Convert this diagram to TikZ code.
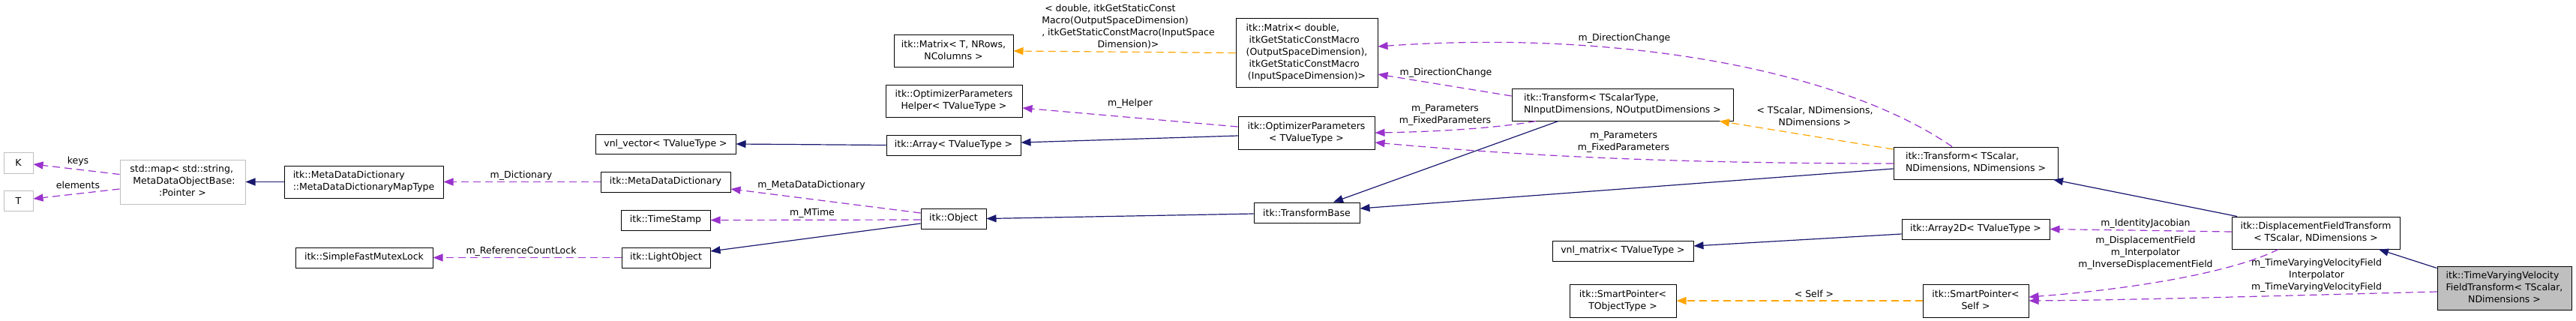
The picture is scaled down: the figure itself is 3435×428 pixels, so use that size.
\documentclass[tikz,border=0pt]{standalone}
\usepackage{fontspec}
\setmainfont{DejaVu Sans}
\usetikzlibrary{arrows.meta}
\definecolor{navy}{HTML}{191970}
\definecolor{orch}{HTML}{9A32CD}
\definecolor{orng}{HTML}{FFA500}
\definecolor{gry}{HTML}{BFBFBF}
\newcommand{\mlab}[2]{\begin{tabular}{@{}l@{}}#1\\\multicolumn{1}{@{}c@{}}{#2}\end{tabular}}
\begin{document}
\begin{tikzpicture}[x=1pt,y=-1pt,
  every node/.style={font=\fontsize{12.5}{16}\selectfont, inner sep=0pt},
  box/.style={draw=black, line width=1pt, fill=white},
  gbox/.style={draw=gry, line width=1pt, fill=white},
  tgt/.style={draw=black, line width=1pt, fill=gry},
  tip/.style={-{Triangle[length=13pt,width=10pt]}},
  inh/.style={draw=navy, line width=1.2pt, tip},
  dep/.style={draw=orch, line width=1.2pt, dash pattern=on 10pt off 6pt, tip},
  tmpl/.style={draw=orng, line width=1.2pt, dash pattern=on 10pt off 6pt, tip},
  lbl/.style={align=center}]
\fill[white] (0,0) rectangle (3435,428);
\useasboundingbox (0,0) rectangle (3435,428);

% nodes
\node[gbox, minimum width=39pt, minimum height=28pt] (K) at (24.5,217) {K};
\node[gbox, minimum width=39pt, minimum height=27pt] (T) at (24.5,267.5) {T};
\node[gbox, minimum width=167pt, minimum height=59pt] (map) at (243.5,242.5) {\mlab{std::map< std::string,\\\ MetaDataObjectBase:}{:Pointer >}};
\node[box, minimum width=212pt, minimum height=43pt] (mapType) at (485,242.5) {\mlab{itk::MetaDataDictionary}{::MetaDataDictionaryMapType}};
\node[box, minimum width=183pt, minimum height=27pt] (mutex) at (485.5,343.5) {itk::SimpleFastMutexLock};
\node[box, minimum width=187pt, minimum height=26pt] (vnlvec) at (887.5,192) {vnl\_vector< TValueType >};
\node[box, minimum width=173pt, minimum height=27pt] (mdd) at (887.5,242.5) {itk::MetaDataDictionary};
\node[box, minimum width=119pt, minimum height=27pt] (tstamp) at (887.5,293.5) {itk::TimeStamp};
\node[box, minimum width=118pt, minimum height=27pt] (lobj) at (888,343.5) {itk::LightObject};
\node[box, minimum width=159pt, minimum height=42pt] (matT) at (1271.5,68) {\mlab{itk::Matrix< T, NRows,}{NColumns >}};
\node[box, minimum width=182pt, minimum height=43pt] (helper) at (1272,134.5) {\mlab{itk::OptimizerParameters}{Helper< TValueType >}};
\node[box, minimum width=179pt, minimum height=27pt] (array) at (1271.5,193.5) {itk::Array< TValueType >};
\node[box, minimum width=87pt, minimum height=27pt] (object) at (1271.5,291.5) {itk::Object};
\node[box, minimum width=189pt, minimum height=91pt] (matD) at (1742.5,70.5) {\mlab{itk::Matrix< double,\\\ itkGetStaticConstMacro\\(OutputSpaceDimension),\\\ itkGetStaticConstMacro}{(InputSpaceDimension)>}};
\node[box, minimum width=182pt, minimum height=44pt] (optp) at (1742,177) {\mlab{itk::OptimizerParameters}{< TValueType >}};
\node[box, minimum width=141pt, minimum height=27pt] (tbase) at (1742.5,283.5) {itk::TransformBase};
\node[box, minimum width=295pt, minimum height=43pt] (transG) at (2163.5,139.5) {\mlab{itk::Transform< TScalarType,}{NInputDimensions, NOutputDimensions >}};
\node[box, minimum width=188pt, minimum height=27pt] (vnlmat) at (2164,334.5) {vnl\_matrix< TValueType >};
\node[box, minimum width=142pt, minimum height=44pt] (spT) at (2164,401) {\mlab{itk::SmartPointer<}{TObjectType >}};
\node[box, minimum width=219pt, minimum height=43pt] (transS) at (2634.5,217.5) {\mlab{itk::Transform< TScalar,}{NDimensions, NDimensions >}};
\node[box, minimum width=197pt, minimum height=27pt] (arr2d) at (2634.5,305.5) {itk::Array2D< TValueType >};
\node[box, minimum width=141pt, minimum height=44pt] (spS) at (2634.5,401) {\mlab{itk::SmartPointer<}{Self >}};
\node[box, minimum width=224pt, minimum height=43pt] (dft) at (3088,310.5) {\mlab{itk::DisplacementFieldTransform}{< TScalar, NDimensions >}};
\node[tgt, minimum width=179pt, minimum height=58pt] (tvv) at (3339.5,384) {\mlab{itk::TimeVaryingVelocity\\FieldTransform< TScalar,}{NDimensions >}};

% edges
\draw[dep] ([yshift=10pt]map.west) -- ([yshift=-2pt]K.east);
\draw[dep] ([yshift=-9.5pt]map.west) -- ([yshift=2.5pt]T.east);
\draw[inh] (mapType.west) -- (map.east);
\draw[dep] (mdd.west) -- (mapType.east);
\draw[dep] (lobj.west) -- (mutex.east);
\draw[dep] ([yshift=7.5pt]object.west) -- ([yshift=-9.5pt]mdd.east);
\draw[dep] ([yshift=-1.5pt]object.west) -- (tstamp.east);
\draw[inh] ([yshift=-6.5pt]object.west) -- ([yshift=8.5pt]lobj.east);
\draw[inh] (array.west) -- ([yshift=0pt]vnlvec.east);
\draw[inh] ([yshift=-4pt]optp.west) -- ([yshift=3.5pt]array.east);
\draw[dep] ([yshift=8pt]optp.west) -- ([yshift=-9.5pt]helper.east);
\draw[tmpl] (matD.west) -- (matT.east);
\draw[inh] ([yshift=-1.5pt]tbase.west) -- (object.east);
\draw[inh] ([xshift=-85.5pt]transG.south) -- ([xshift=35.5pt]tbase.north);
\draw[dep] ([yshift=11.5pt]transG.west) -- ([yshift=-28.5pt]matD.east);
\draw[dep] ([xshift=-115.5pt]transG.south) .. controls (1990,172) and (1900,176) .. (optp.east);
\draw[tmpl] ([yshift=18.5pt]transS.west) -- ([xshift=129.5pt]transG.south);
\draw[dep] ([xshift=-31.5pt]transS.north) .. controls (2450,90) and (2150,40) .. ([yshift=8.5pt]matD.east);
\draw[dep] ([yshift=-0.5pt]transS.west) .. controls (2200,218) and (2000,205) .. ([yshift=-13pt]optp.east);
\draw[inh] ([yshift=-7.5pt]transS.west) -- ([yshift=5.5pt]tbase.east);
\draw[inh] ([yshift=-6.5pt]arr2d.west) -- ([yshift=6.5pt]vnlmat.east);
\draw[inh] ([xshift=-105pt]dft.north) -- ([xshift=103.5pt]transS.south);
\draw[dep] ([yshift=1.5pt]dft.west) -- (arr2d.east);
\draw[dep] ([xshift=-50pt]dft.south) .. controls (2980,362) and (2850,385) .. ([yshift=5pt]spS.east);
\draw[tmpl] (spS.west) -- (spT.east);
\draw[inh] ([yshift=-3pt]tvv.north west) -- ([xshift=84pt]dft.south);
\draw[dep] ([yshift=-5pt]tvv.west) .. controls (3050,394) and (2850,400) .. ([yshift=0pt]spS.east);

% edge labels
\node (lkeys) at (104,215) {keys};
\node (lelem) at (104,247) {elements};
\node (ldict) at (695,234) {m\_Dictionary};
\node (lrcl) at (695,335) {m\_ReferenceCountLock};
\node (lmdd) at (1082,247) {m\_MetaDataDictionary};
\node (lmt) at (1083,284) {m\_MTime};
\node (lhelp) at (1507,138) {m\_Helper};
\node (lmat) at (1504.5,36) {\mlab{\ < double, itkGetStaticConst\\Macro(OutputSpaceDimension)\\, itkGetStaticConstMacro(InputSpace}{Dimension)>}};
\node (ldc1) at (1928,97) {m\_DirectionChange};
\node[lbl] (lpar1) at (1927,153) {m\_Parameters\\m\_FixedParameters};
\node (ldc2) at (2166,51) {m\_DirectionChange};
\node[lbl] (lpar2) at (2165,189) {m\_Parameters\\m\_FixedParameters};
\node[lbl] (ltsc) at (2420,155) {< TScalar, NDimensions,\\NDimensions >};
\node (lself) at (2419,392) {< Self >};
\node (lij) at (2861,298) {m\_IdentityJacobian};
\node[lbl] (ldf) at (2861,337) {m\_DisplacementField\\m\_Interpolator\\m\_InverseDisplacementField};
\node[lbl] (ltv) at (3089,367) {m\_TimeVaryingVelocityField\\Interpolator\\m\_TimeVaryingVelocityField};
\end{tikzpicture}
\end{document}
